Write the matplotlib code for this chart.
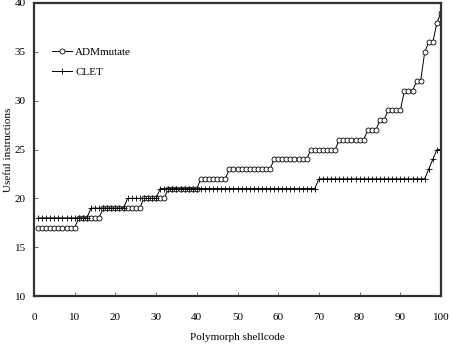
import matplotlib
matplotlib.use("Agg")
import matplotlib.pyplot as plt
import numpy as np

# shellcode index 1..100
x = np.arange(1, 101)

# (value, run length) for each step of the sorted curves
adm_steps = [(17, 10), (18, 6), (19, 10), (20, 6), (21, 8), (22, 7), (23, 11),
             (24, 9), (25, 7), (26, 7), (27, 3), (28, 2), (29, 4), (31, 3),
             (32, 2), (35, 1), (36, 2), (38, 1), (39, 1)]
clet_steps = [(18, 13), (19, 9), (20, 8), (21, 39), (22, 27), (23, 1), (24, 1), (25, 2)]

adm = np.repeat([v for v, n in adm_steps], [n for v, n in adm_steps])
clet = np.repeat([v for v, n in clet_steps], [n for v, n in clet_steps])

xticks = list(range(0, 101, 10))
yticks = list(range(10, 41, 5))

plt.rcParams['font.family'] = 'Liberation Serif'
plt.rcParams['font.size'] = 8

fig = plt.figure(figsize=(4.5, 3.44), dpi=100)
ax = fig.add_axes([34 / 450, 48 / 344, 407 / 450, 293 / 344])

ax.plot(x, adm, color='black', linewidth=0.7, marker='o', markersize=3.6,
        markerfacecolor='white', markeredgecolor='black', markeredgewidth=0.6,
        label='ADMmutate')
ax.plot(x, clet, color='black', linewidth=0.7, marker='+', markersize=5,
        markeredgewidth=0.6, label='CLET')

ax.set_xlim(0, 100)
ax.set_ylim(10, 40)
ax.set_xticks(xticks)
ax.set_yticks(yticks)
ax.tick_params(direction='in', length=3, width=0.6, color='#555555')
ax.tick_params(axis='x', pad=12)
ax.tick_params(axis='y', pad=6)
for s in ax.spines.values():
    s.set_linewidth(1.6)
    s.set_color('#333333')

ax.set_xlabel('Polymorph shellcode')
ax.xaxis.set_label_coords(0.5, -0.125)
ax.set_ylabel('Useful instructions')
ax.yaxis.set_label_coords(-0.052, 0.5)

ax.legend(loc='upper left', bbox_to_anchor=(0.025, 0.876), frameon=False,
          handlelength=1.8, handletextpad=0.3, labelspacing=0.9, fontsize=8,
          borderpad=0.2)

fig.savefig('out.png', dpi=100)
